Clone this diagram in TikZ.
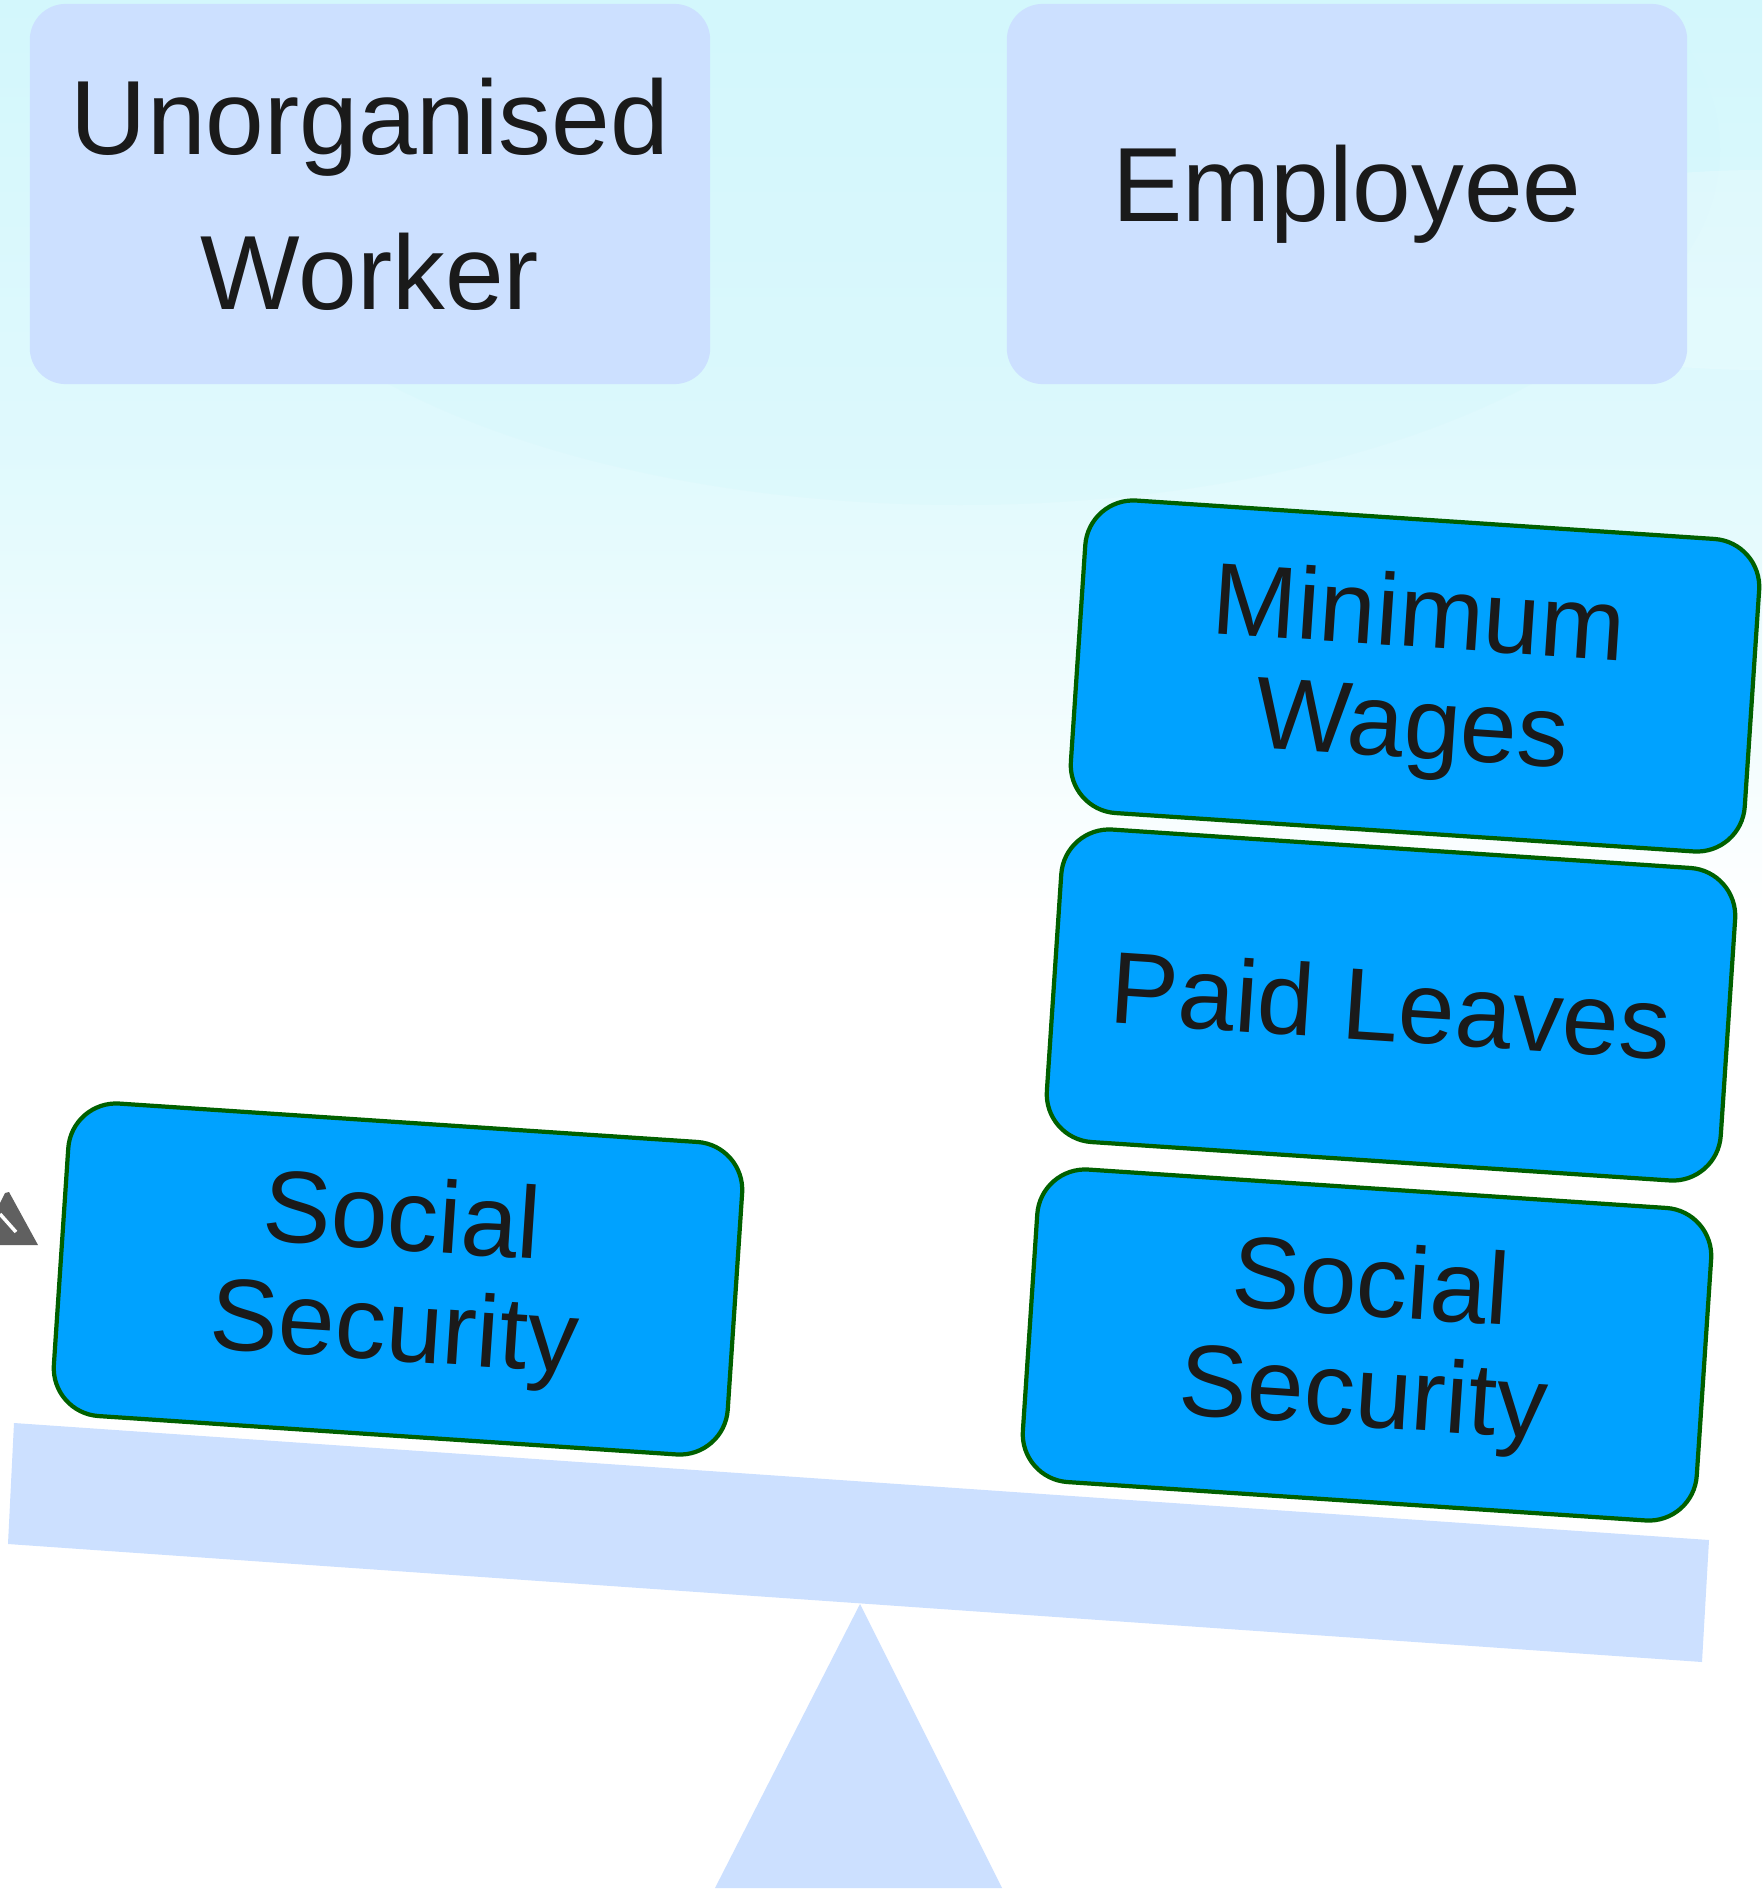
\documentclass[tikz,border=0pt]{standalone}
\usepackage{fontspec}
\setmainfont{Liberation Sans}
\usetikzlibrary{shapes.geometric}
\definecolor{bgtop}{HTML}{D3F7FC}
\definecolor{panel}{HTML}{CCE0FF}
\definecolor{blockfill}{HTML}{00A2FF}
\definecolor{blockline}{HTML}{006000}
\definecolor{txt}{HTML}{1A1A1A}
\definecolor{arrowgray}{HTML}{606060}
\tikzset{
  panelbox/.style={fill=panel, draw=none, rounded corners=36*0.01cm,
    minimum width=6.8cm, minimum height=3.8cm, align=center,
    text=txt, font=\fontsize{30}{44}\selectfont},
  block/.style={fill=blockfill, draw=blockline, line width=1.2pt,
    rounded corners=48*0.01cm, minimum width=6.75cm, minimum height=3.13cm,
    rotate=-3.8, align=center, text=txt, font=\fontsize{29}{31.5}\selectfont,
    inner sep=0pt}
}
\begin{document}
\begin{tikzpicture}[x=0.01cm,y=-0.01cm]
\useasboundingbox (0,0) rectangle (1762,1891);
% background
\fill[white] (0,0) rectangle (1762,1891);
\shade[top color=bgtop, bottom color=white, middle color=bgtop!70] (0,0) rectangle (1762,920);
\fill[bgtop, opacity=0.3] (960,150) ellipse [x radius=760, y radius=355];
\fill[white, opacity=0.2] (1762,270) ellipse [x radius=330, y radius=100];
% top panels
\node[panelbox] (unorg) at (370,194) {Unorganised\\Worker};
\node[panelbox] (empl) at (1347,194) {Employee};
% beam and fulcrum
\fill[panel] (14,1423) -- (1709,1540) -- (1702,1662) -- (8,1544) -- cycle;
\fill[panel] (860,1604) -- (1002,1888) -- (715,1888) -- cycle;
% arrow fragment
\fill[arrowgray] (0,1203) -- (5,1193) -- (9,1192) -- (38,1245) -- (0,1245) -- cycle;
\draw[white, line width=1pt] (0,1214) -- (16,1232);
% blocks
\node[block] (ssl) at (398,1279) {Social\\Security};
\node[block] (ssr) at (1367,1345) {Social\\Security};
\node[block] (paid) at (1391,1005) {Paid Leaves};
\node[block] (minw) at (1415,676) {Minimum\\Wages};
\end{tikzpicture}
\end{document}
